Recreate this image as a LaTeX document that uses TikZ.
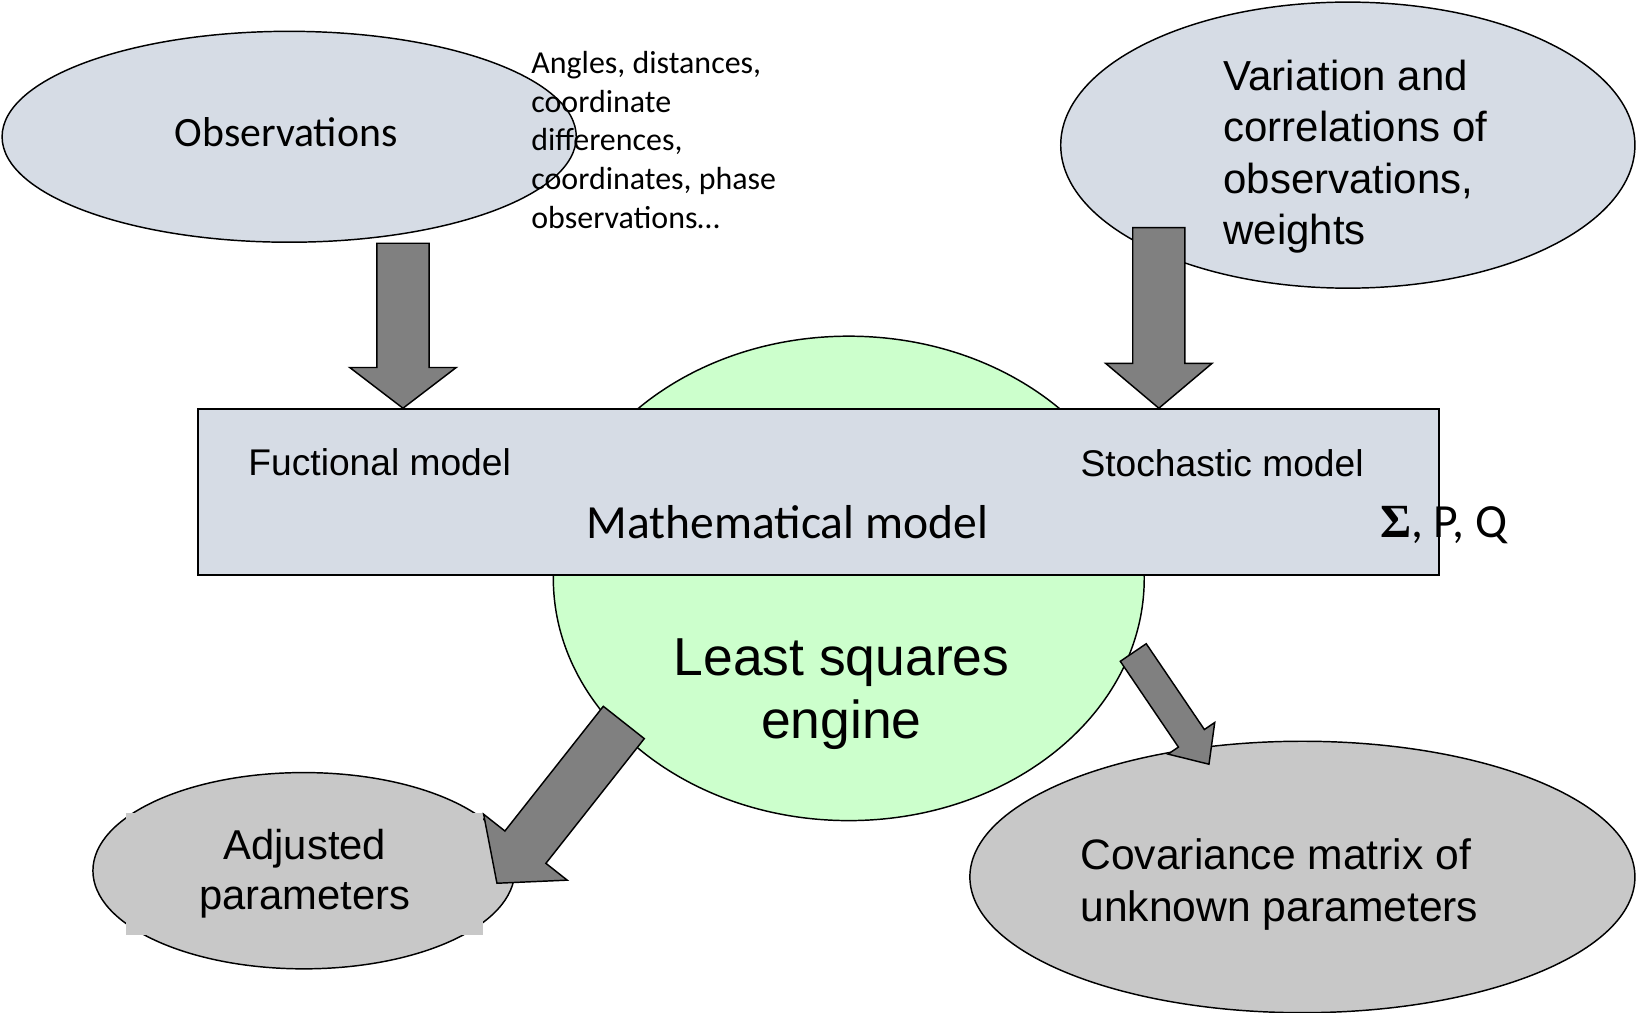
\documentclass[tikz,border=0pt]{standalone}
\usepackage{fontspec}
\setmainfont{Carlito}
\newfontfamily\calfont{Carlito}
\newfontfamily\arfont{Liberation Sans}
\newfontfamily\sigfont{Liberation Serif}
\usetikzlibrary{shapes.geometric,calc}
\definecolor{boxblue}{HTML}{D6DCE5}
\definecolor{enggreen}{HTML}{CCFFCC}
\definecolor{outgray}{HTML}{C8C8C8}
\definecolor{arrgray}{HTML}{808080}
\newcommand\blockarr[5]{%
  \coordinate (neck) at ($(#2)!#5!(#1)$);
  \draw[blockarrow] ($(#1)!#3!90:(#2)$) -- ($(neck)!#3!90:(#2)$) -- ($(neck)!#4!90:(#2)$) -- (#2)
    -- ($(neck)!#4!-90:(#2)$) -- ($(neck)!#3!-90:(#2)$) -- ($(#1)!#3!-90:(#2)$) -- cycle;}
\begin{document}
\begin{tikzpicture}[x=0.5pt,y=-0.5pt,
  oval/.style={ellipse, draw=black, line width=0.7pt, inner sep=0pt},
  blockarrow/.style={draw=black, fill=arrgray, line width=0.7pt, line join=miter},
  txt/.style={inner sep=0pt, outer sep=0pt}]
\useasboundingbox (0,0) rectangle (1568,970);

% shapes
\node[oval, fill=enggreen, minimum width=283pt, minimum height=232pt] (engine) at (813,554) {};
\node[draw=black, line width=0.9pt, fill=boxblue, minimum width=594pt, minimum height=79.5pt, inner sep=0pt] (math) at (784,471.5) {};
\node[oval, fill=boxblue, minimum width=275pt, minimum height=101pt] (obs) at (277,131) {};
\node[oval, fill=boxblue, minimum width=275pt, minimum height=137pt] (var) at (1291,139) {};
\node[oval, fill=outgray, minimum width=202pt, minimum height=94pt] (adj) at (291,834) {};
\node[oval, fill=outgray, minimum width=318.5pt, minimum height=130pt] (cov) at (1247.5,840) {};

% texts
\node[txt, font=\calfont\fontsize{20}{24}\selectfont] (obst) at (274,127) {Observations};
\node[txt, anchor=west, align=left, font=\calfont\fontsize{15.3}{18.5}\selectfont] (angles) at (509,134)
  {Angles, distances,\\coordinate\\differences,\\coordinates, phase\\observations…};
\node[txt, anchor=west, align=left, font=\arfont\fontsize{20.1}{24.5}\selectfont] (vart) at (1172,150)
  {Variation and\\correlations of\\observations,\\weights};
\node[txt, anchor=west, font=\arfont\fontsize{17.8}{21}\selectfont] (func) at (238,443) {Fuctional model};
\node[txt, anchor=west, font=\arfont\fontsize{17.8}{21}\selectfont] (stoch) at (1035,444) {Stochastic model};
\node[txt, font=\calfont\fontsize{22.8}{27}\selectfont] (mathtxt) at (754,500) {Mathematical model};
\node[txt, anchor=west, font=\calfont\fontsize{22.8}{27}\selectfont] (spq) at (1322,503) {{\sigfont\bfseries Σ}, P, Q};
\node[txt, align=center, font=\arfont\fontsize{25.6}{30}\selectfont] (engt) at (806,665) {Least squares\\engine};
\node[txt, fill=outgray, minimum width=171pt, minimum height=58.5pt, align=center, font=\arfont\fontsize{20}{24}\selectfont] (adjt) at (292,837) {Adjusted\\parameters};
\node[txt, anchor=west, align=left, font=\arfont\fontsize{20.4}{25}\selectfont] (covt) at (1035,847)
  {Covariance matrix of\\unknown parameters};

% arrows
\coordinate (a1t) at (386,233); \coordinate (a1h) at (386,391);
\coordinate (a2t) at (1110,218); \coordinate (a2h) at (1110,391);
\coordinate (a3t) at (597.5,692); \coordinate (a3h) at (476,846);
\coordinate (a4t) at (1085.5,625); \coordinate (a4h) at (1158,732);
\blockarr{a1t}{a1h}{12.5pt}{25.5pt}{19.5pt}
\blockarr{a2t}{a2h}{12.5pt}{25.5pt}{21.5pt}
\blockarr{a3t}{a3h}{12.5pt}{25.5pt}{22pt}
\blockarr{a4t}{a4h}{7.5pt}{13.5pt}{15pt}
\end{tikzpicture}
\end{document}
